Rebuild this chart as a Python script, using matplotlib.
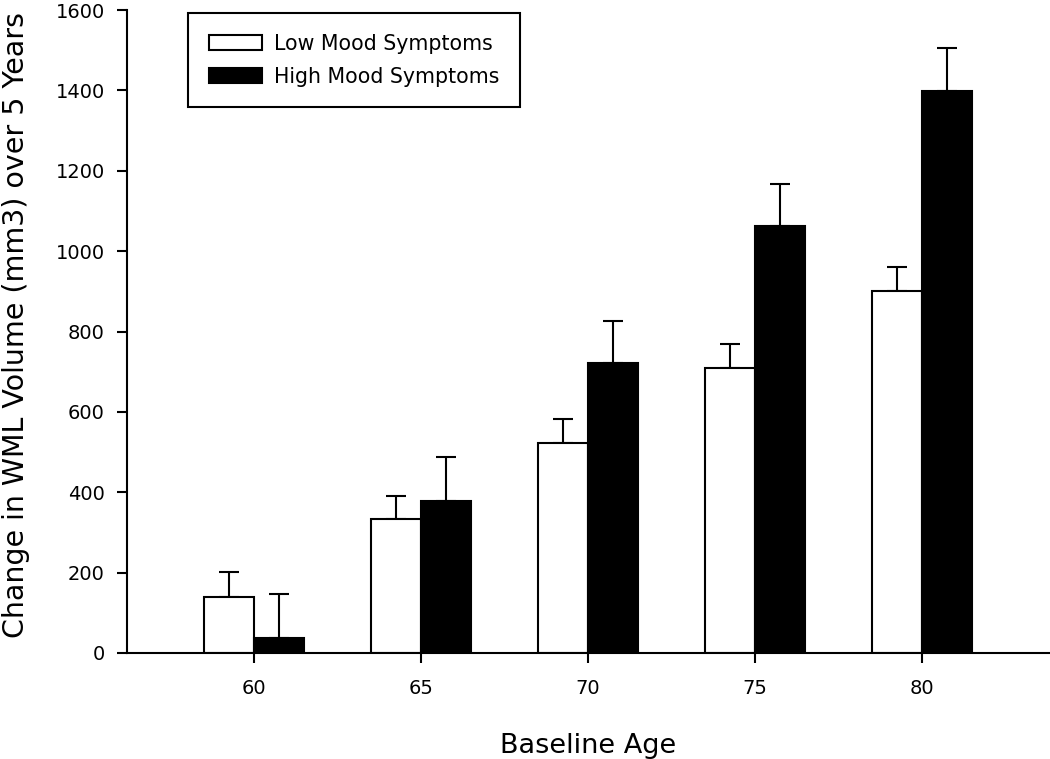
import matplotlib
matplotlib.use("Agg")
import matplotlib.pyplot as plt
import numpy as np

plt.rcParams['font.family'] = ['DejaVu Sans']

# data
ages = [60, 65, 70, 75, 80]
low_mood = [139, 333, 522, 710, 901]
low_err = [62, 58, 60, 60, 59]
high_mood = [37, 378, 722, 1062, 1398]
high_err = [110, 110, 104, 105, 107]

fig = plt.figure(figsize=(10.5, 7.59), dpi=100)
ax = fig.add_axes([127 / 1050, 1 - 653 / 759, 1 - 127 / 1050, (653 - 10) / 759])

x = np.array(ages, dtype=float)
w = 1.5

ax.bar(x - w / 2, low_mood, width=w, color='white', edgecolor='black', linewidth=1.5,
       label='Low Mood Symptoms', zorder=2)
ax.bar(x + w / 2, high_mood, width=w, color='black', edgecolor='black', linewidth=1.5,
       label='High Mood Symptoms', zorder=2)

# only the upper half of the error bars is drawn
ax.errorbar(x - w / 2, low_mood, yerr=[np.zeros(5), low_err], fmt='none',
            ecolor='black', elinewidth=1.5, capsize=7, capthick=1.5, zorder=1)
ax.errorbar(x + w / 2, high_mood, yerr=[np.zeros(5), high_err], fmt='none',
            ecolor='black', elinewidth=1.5, capsize=7, capthick=1.5, zorder=1)

ax.set_xlim(56.2, 83.83)
ax.set_ylim(0, 1600)
ax.set_xticks(ages)
ax.set_yticks(range(0, 1601, 200))

for s in ['top', 'right']:
    ax.spines[s].set_visible(False)
for s in ['left', 'bottom']:
    ax.spines[s].set_linewidth(1.5)

ax.tick_params(direction='out', length=7, width=1.5, labelsize=14)
ax.tick_params(axis='x', pad=12)
ax.tick_params(axis='y', pad=9)

ax.set_xlabel('Baseline Age', fontsize=19.5, labelpad=25)
ax.set_ylabel('Change in WML Volume (mm3) over 5 Years', fontsize=20.5)
ax.yaxis.set_label_coords(-0.105, 0.51)

leg = fig.legend(loc='upper left', bbox_to_anchor=(188 / 1050, 1 - 13 / 759),
                 fontsize=14.8, frameon=True, fancybox=False, edgecolor='black',
                 handlelength=2.6, handleheight=0.8, labelspacing=0.64,
                 borderpad=1.0, borderaxespad=0, handletextpad=0.6)
leg.get_frame().set_linewidth(1.5)
leg.get_frame().set_alpha(1)

fig.savefig('out.png', dpi=100)
